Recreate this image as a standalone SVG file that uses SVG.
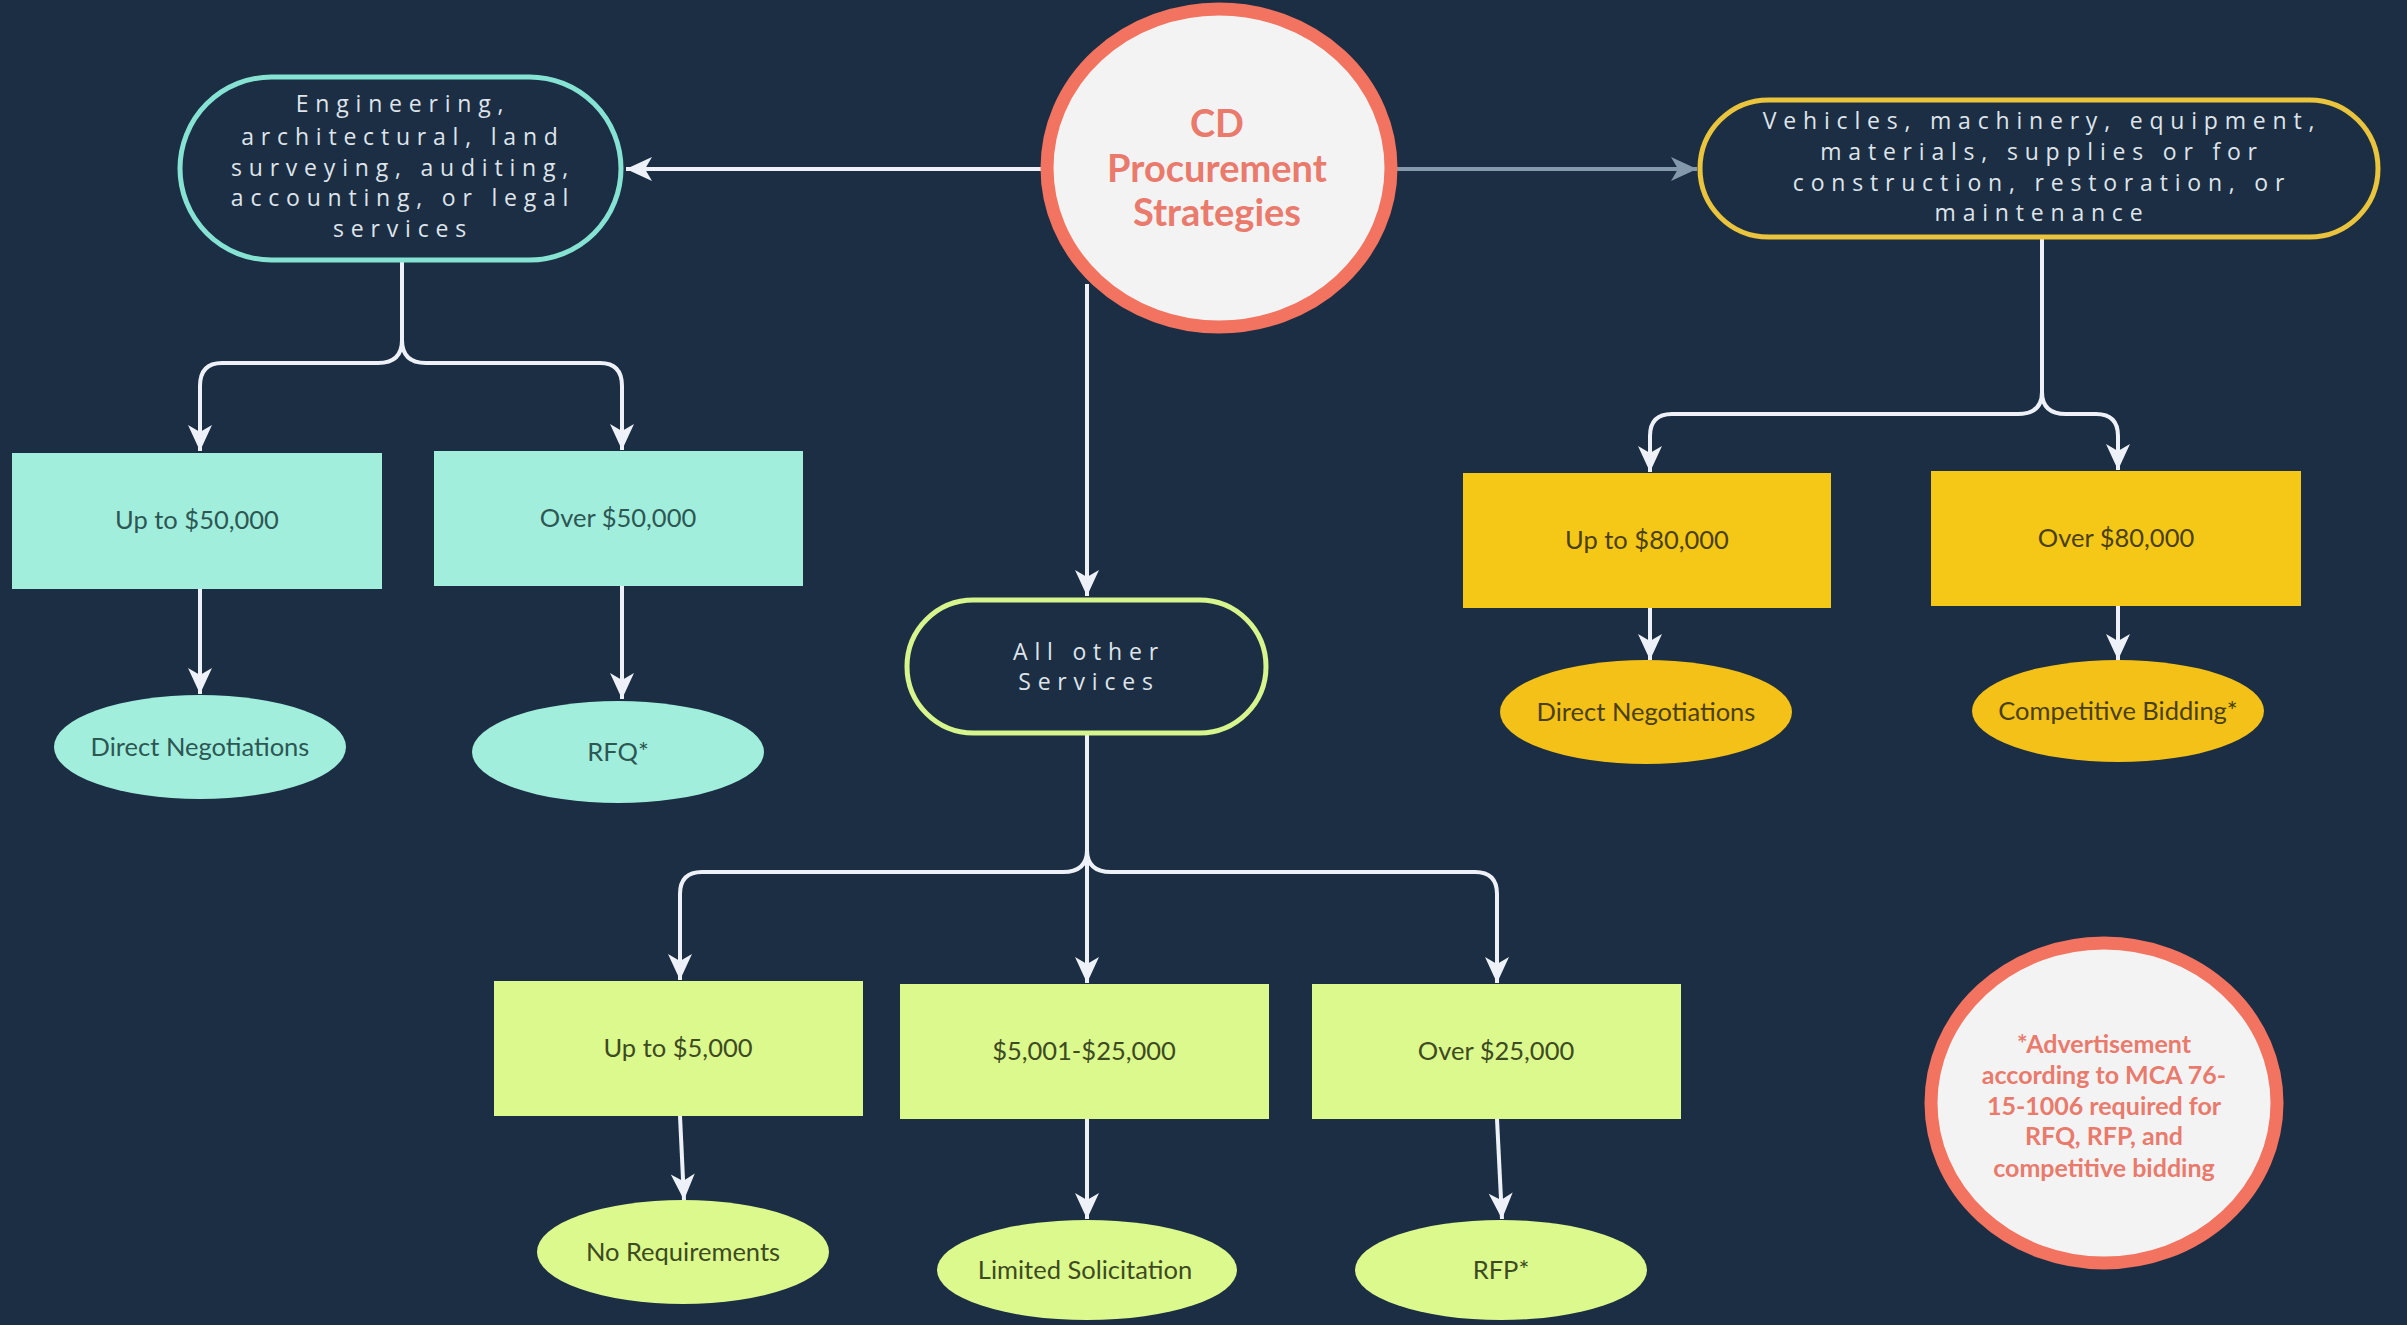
<svg xmlns="http://www.w3.org/2000/svg" width="2407" height="1325" viewBox="0 0 2407 1325">
<defs>
<marker id="ah" markerUnits="userSpaceOnUse" markerWidth="30" markerHeight="30" viewBox="0 0 30 30" refX="28" refY="15" orient="auto">
<path d="M2,3 L28,15 L2,27 L9,15 Z" fill="#eef2f8"/>
</marker>
<marker id="ahg" markerUnits="userSpaceOnUse" markerWidth="30" markerHeight="30" viewBox="0 0 30 30" refX="28" refY="15" orient="auto">
<path d="M2,3 L28,15 L2,27 L9,15 Z" fill="#8499ab"/>
</marker>
<style>
.pilltxt{font-family:"Open Sans","Liberation Sans",sans-serif;font-size:23px;letter-spacing:6.8px;fill:#dfe4ea;text-anchor:middle}
.boxtxt{font-family:Lato,"Liberation Sans",sans-serif;font-size:25.5px;text-anchor:middle}
.circtxt{font-family:Lato,"Liberation Sans",sans-serif;font-weight:bold;fill:#e97a6c;text-anchor:middle}
.conn{fill:none;stroke:#eef2f8;stroke-width:4;stroke-linejoin:round}
.teal{fill:#a2eedd}
.yel{fill:#f5c817}
.lime{fill:#dbf98c}
.tealtxt{fill:#2d5753}
.yeltxt{fill:#4a3f10}
.limetxt{fill:#3d4a22}
</style>
</defs>
<rect x="0" y="0" width="2407" height="1325" fill="#1b2e44"/>

<g id="connectors">
<line class="conn" x1="1044" y1="169" x2="626" y2="169" marker-end="url(#ah)"/>
<line x1="1395" y1="169" x2="1697" y2="169" stroke="#8499ab" stroke-width="4" marker-end="url(#ahg)"/>
<path class="conn" d="M1087,284 V596" marker-end="url(#ah)"/>
<path class="conn" d="M402,262 V340 Q402,363 378,363 H222 Q200,363 200,386 V451" marker-end="url(#ah)"/>
<path class="conn" d="M402,340 Q402,363 426,363 H600 Q622,363 622,386 V450" marker-end="url(#ah)"/>
<path class="conn" d="M200,589 V694" marker-end="url(#ah)"/>
<path class="conn" d="M622,586 V699" marker-end="url(#ah)"/>
<path class="conn" d="M2042,238 V392 Q2042,414 2018,414 H1672 Q1650,414 1650,436 V472" marker-end="url(#ah)"/>
<path class="conn" d="M2042,392 Q2042,414 2066,414 H2096 Q2118,414 2118,436 V470" marker-end="url(#ah)"/>
<path class="conn" d="M1650,608 V660" marker-end="url(#ah)"/>
<path class="conn" d="M2118,606 V660" marker-end="url(#ah)"/>
<path class="conn" d="M1087,735 V850 Q1087,872 1063,872 H702 Q680,872 680,894 V980" marker-end="url(#ah)"/>
<path class="conn" d="M1087,850 Q1087,872 1111,872 H1475 Q1497,872 1497,894 V983" marker-end="url(#ah)"/>
<path class="conn" d="M1087,850 V983" marker-end="url(#ah)"/>
<path class="conn" d="M680,1116 L684,1200" marker-end="url(#ah)"/>
<path class="conn" d="M1087,1119 V1219" marker-end="url(#ah)"/>
<path class="conn" d="M1497,1119 L1502,1219" marker-end="url(#ah)"/>
</g>

<g id="center">
<ellipse cx="1219" cy="168" rx="172" ry="159" fill="#f3f3f4" stroke="#f2735f" stroke-width="13"/>
<text class="circtxt" font-size="38" x="1217" y="137">CD</text>
<text class="circtxt" font-size="38" x="1217" y="182">Procurement</text>
<text class="circtxt" font-size="38" x="1217" y="226">Strategies</text>
</g>

<g id="pill-eng">
<rect x="180" y="77" width="441" height="183" rx="91.5" fill="#1b2e44" stroke="#86e3d3" stroke-width="5"/>
<text class="pilltxt" x="403" y="112">Engineering,</text>
<text class="pilltxt" x="403" y="145">architectural, land</text>
<text class="pilltxt" x="403" y="176">surveying, auditing,</text>
<text class="pilltxt" x="403" y="206">accounting, or legal</text>
<text class="pilltxt" x="403" y="237">services</text>
</g>

<g id="pill-veh">
<rect x="1700" y="100" width="678" height="137" rx="68.5" fill="#1b2e44" stroke="#e9c43c" stroke-width="5"/>
<text class="pilltxt" x="2042" y="129">Vehicles, machinery, equipment,</text>
<text class="pilltxt" x="2042" y="160">materials, supplies or for</text>
<text class="pilltxt" x="2042" y="191">construction, restoration, or</text>
<text class="pilltxt" x="2042" y="221">maintenance</text>
</g>

<g id="pill-other">
<rect x="907" y="600" width="359" height="133" rx="66.5" fill="#1b2e44" stroke="#d6f58c" stroke-width="5"/>
<text class="pilltxt" x="1089" y="660">All other</text>
<text class="pilltxt" x="1089" y="690">Services</text>
</g>

<g id="box-up50">
<rect class="teal" x="12" y="453" width="370" height="136"/>
<text class="boxtxt tealtxt" x="197" y="529">Up to $50,000</text>
</g>
<g id="box-over50">
<rect class="teal" x="434" y="451" width="369" height="135"/>
<text class="boxtxt tealtxt" x="618" y="527">Over $50,000</text>
</g>
<g id="ell-dn1">
<ellipse class="teal" cx="200" cy="747" rx="146" ry="52"/>
<text class="boxtxt tealtxt" x="200" y="756">Direct Negotiations</text>
</g>
<g id="ell-rfq">
<ellipse class="teal" cx="618" cy="752" rx="146" ry="51"/>
<text class="boxtxt tealtxt" x="618" y="761">RFQ*</text>
</g>

<g id="box-up80">
<rect class="yel" x="1463" y="473" width="368" height="135"/>
<text class="boxtxt yeltxt" x="1647" y="549">Up to $80,000</text>
</g>
<g id="box-over80">
<rect class="yel" x="1931" y="471" width="370" height="135"/>
<text class="boxtxt yeltxt" x="2116" y="547">Over $80,000</text>
</g>
<g id="ell-dn2">
<ellipse cx="1646" cy="712" rx="146" ry="52" fill="#f3c117"/>
<text class="boxtxt yeltxt" x="1646" y="721">Direct Negotiations</text>
</g>
<g id="ell-cb">
<ellipse cx="2118" cy="711" rx="146" ry="51" fill="#f3c117"/>
<text class="boxtxt yeltxt" x="2118" y="720">Competitive Bidding*</text>
</g>

<g id="box-up5">
<rect class="lime" x="494" y="981" width="369" height="135"/>
<text class="boxtxt limetxt" x="678" y="1057">Up to $5,000</text>
</g>
<g id="box-5to25">
<rect class="lime" x="900" y="984" width="369" height="135"/>
<text class="boxtxt limetxt" x="1084" y="1060">$5,001-$25,000</text>
</g>
<g id="box-over25">
<rect class="lime" x="1312" y="984" width="369" height="135"/>
<text class="boxtxt limetxt" x="1496" y="1060">Over $25,000</text>
</g>
<g id="ell-noreq">
<ellipse class="lime" cx="683" cy="1252" rx="146" ry="52"/>
<text class="boxtxt limetxt" x="683" y="1261">No Requirements</text>
</g>
<g id="ell-limited">
<ellipse class="lime" cx="1087" cy="1270" rx="150" ry="50"/>
<text class="boxtxt limetxt" x="1085" y="1279">Limited Solicitation</text>
</g>
<g id="ell-rfp">
<ellipse class="lime" cx="1501" cy="1270" rx="146" ry="50"/>
<text class="boxtxt limetxt" x="1501" y="1279">RFP*</text>
</g>

<g id="footnote">
<ellipse cx="2104" cy="1103" rx="173" ry="160" fill="#f3f3f4" stroke="#f2735f" stroke-width="13"/>
<text class="circtxt" font-size="25" x="2104" y="1053">*Advertisement</text>
<text class="circtxt" font-size="25" x="2104" y="1084">according to MCA 76-</text>
<text class="circtxt" font-size="25" x="2104" y="1115">15-1006 required for</text>
<text class="circtxt" font-size="25" x="2104" y="1145">RFQ, RFP, and</text>
<text class="circtxt" font-size="25" x="2104" y="1177">competitive bidding</text>
</g>
</svg>
